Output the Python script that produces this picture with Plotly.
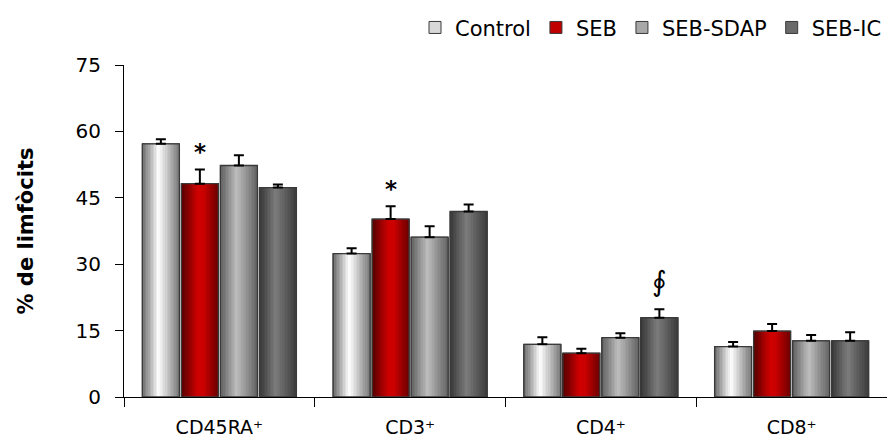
import plotly.graph_objects as go

# Data
categories = ["CD45RA\u207a", "CD3\u207a", "CD4\u207a", "CD8\u207a"]
series_names = ["Control", "SEB", "SEB-SDAP", "SEB-IC"]
control = [57.2, 32.4, 11.9, 11.4]
seb = [48.2, 40.2, 9.9, 14.9]
seb_sdap = [52.3, 36.1, 13.4, 12.7]
seb_ic = [47.3, 41.9, 17.9, 12.7]
control_err = [1.0, 1.2, 1.6, 1.0]
seb_err = [3.2, 2.9, 1.0, 1.6]
seb_sdap_err = [2.3, 2.5, 1.0, 1.3]
seb_ic_err = [0.7, 1.6, 1.9, 1.9]
# significance marks: (category index, series index, symbol)
marks = [(0, 1, "*"), (1, 1, "*"), (2, 3, "\u222e")]

values = [control, seb, seb_sdap, seb_ic]
errors = [control_err, seb_err, seb_sdap_err, seb_ic_err]

# Horizontal shading of each series: (position across bar, rgb)
shading = [
    [(0.0, (100, 100, 100)), (0.45, (255, 255, 255)), (1.0, (122, 122, 122))],
    [(0.0, (80, 0, 0)), (0.45, (206, 0, 0)), (0.6, (204, 0, 0)), (1.0, (110, 0, 0))],
    [(0.0, (92, 92, 92)), (0.45, (190, 190, 190)), (1.0, (100, 100, 100))],
    [(0.0, (52, 52, 52)), (0.45, (124, 124, 124)), (1.0, (60, 60, 60))],
]
legend_fill = ["#d8d8d8", "#c00000", "#a8a8a8", "#6a6a6a"]


def shade(stops, t):
    for (p0, c0), (p1, c1) in zip(stops[:-1], stops[1:]):
        if p0 <= t <= p1:
            f = (t - p0) / (p1 - p0) if p1 > p0 else 0
            r, g, b = (round(a + (b_ - a) * f) for a, b_ in zip(c0, c1))
            return f"rgb({r},{g},{b})"
    return "rgb({},{},{})".format(*stops[-1][1])


bar_w = 0.194
pitch = 0.2045
start = -2 * pitch + (pitch - bar_w) / 2
n_strips = 24

fig = go.Figure()

for s, name in enumerate(series_names):
    off = start + s * pitch
    # base bar carries the legend entry
    fig.add_trace(go.Bar(
        x=categories, y=values[s], name=name, width=bar_w, offset=off,
        marker=dict(color=legend_fill[s], line=dict(color="#3a3a3a", width=1)),
        hoverinfo="skip", legendrank=s,
    ))
    # shaded strips
    sw = bar_w / n_strips
    for k in range(n_strips):
        fig.add_trace(go.Bar(
            x=categories, y=values[s], width=sw * 1.05, offset=off + k * sw,
            marker=dict(color=shade(shading[s], (k + 0.5) / n_strips), line=dict(width=0)),
            showlegend=False, hoverinfo="skip",
        ))
    # outline and error bars
    fig.add_trace(go.Bar(
        x=categories, y=values[s], width=bar_w, offset=off, name=name,
        marker=dict(color="rgba(0,0,0,0)", line=dict(color="#3a3a3a", width=1.3)),
        error_y=dict(type="data", array=errors[s], arrayminus=[0] * 4, symmetric=False,
                     color="black", thickness=2, width=5),
        showlegend=False,
    ))

for ci, si, sym in marks:
    xc = ci + start + si * pitch + bar_w / 2
    top = values[si][ci] + errors[si][ci]
    fig.add_annotation(
        x=xc, y=top, xref="x", yref="y",
        text=f"<b>{sym}</b>" if sym == "*" else sym,
        showarrow=False, yanchor="middle",
        yshift=17 if sym == "*" else 28,
        font=dict(size=23 if sym == "*" else 28, color="black", family="DejaVu Sans"),
    )

fig.update_layout(
    width=887, height=441,
    margin=dict(l=124, r=0, t=65, b=44),
    barmode="overlay",
    plot_bgcolor="white", paper_bgcolor="white",
    font=dict(family="DejaVu Sans", size=20, color="black"),
    showlegend=True,
    legend=dict(orientation="h", x=1.0, xanchor="right", y=1.112, yanchor="middle",
                font=dict(size=21), traceorder="normal", itemclick=False,
                bgcolor="rgba(0,0,0,0)"),
    xaxis=dict(type="category", categoryorder="array", categoryarray=categories,
               range=[-0.5, 3.5], showline=True, linecolor="black", linewidth=1,
               ticks="outside", tickson="boundaries", ticklen=9, tickcolor="black",
               ticklabelstandoff=13, showgrid=False, zeroline=False, automargin=False,
               tickfont=dict(size=19)),
    yaxis=dict(range=[0, 75], tickvals=[0, 15, 30, 45, 60, 75], showline=True,
               linecolor="black", linewidth=1, ticks="outside", ticklen=8,
               tickcolor="black", ticklabelstandoff=10, showgrid=False, zeroline=False,
               automargin=False, tickfont=dict(size=20),
               title=dict(text="<b>% de limfòcits</b>", font=dict(size=21), standoff=36)),
)

fig.write_html("out.html")
